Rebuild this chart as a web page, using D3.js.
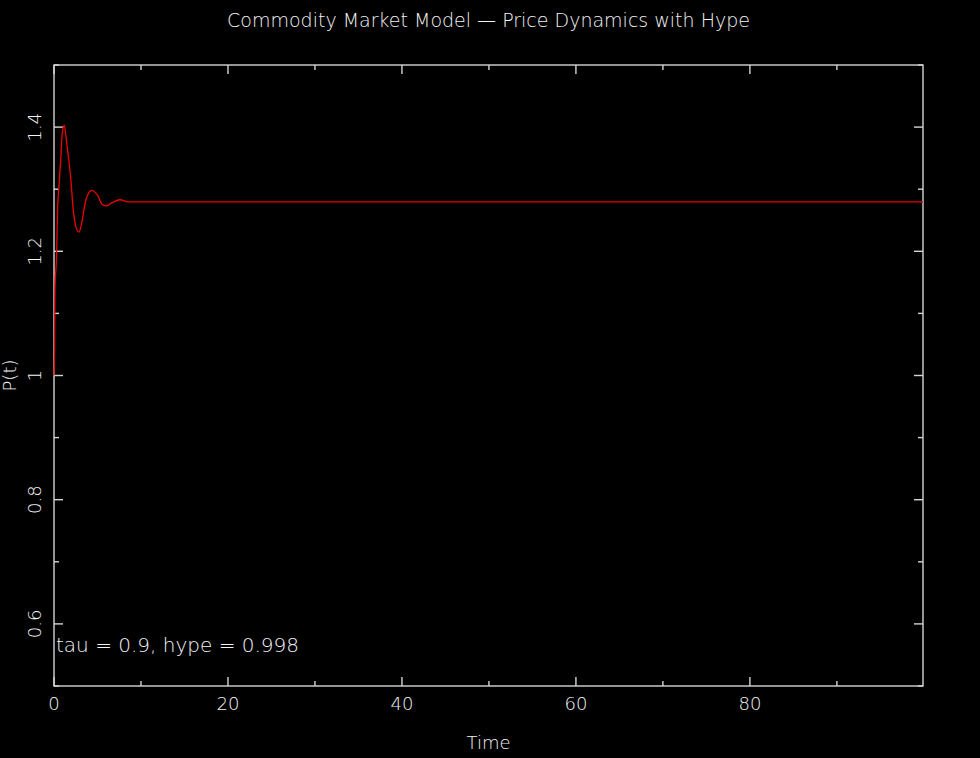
<!DOCTYPE html>
<html>
<head>
<meta charset="utf-8">
<script src="https://cdn.jsdelivr.net/npm/d3@7"></script>
<style>
  body { margin: 0; background: #000; }
  text { font-family: "DejaVu Sans", sans-serif; font-weight: 200; fill: #f4f4f4; }
</style>
</head>
<body>
<div id="chart"></div>
<script>
// data
const times  = [0, 0.05, 0.11, 0.29, 0.42, 0.6, 0.77, 0.95, 1.18, 1.46, 1.92, 2.22, 2.53, 2.88, 3.18, 3.57, 3.95, 4.33, 4.8, 5.1, 5.49, 5.98, 6.63, 7.6, 8.55, 9.9, 99.9];
const prices = [1.0, 1.03, 1.14, 1.19, 1.27, 1.31, 1.347, 1.39, 1.403, 1.374, 1.318, 1.266, 1.239, 1.231, 1.245, 1.277, 1.293, 1.298, 1.294, 1.288, 1.276, 1.273, 1.278, 1.283, 1.2795, 1.2795, 1.2795];
const xMajor = [0, 20, 40, 60, 80];
const xMinor = [10, 30, 50, 70, 90];
const yMajor = [0.6, 0.8, 1.0, 1.2, 1.4];
const yMinor = [0.5, 0.7, 0.9, 1.1, 1.3, 1.5];

const W = 980, H = 758;
const margin = {top: 65, right: 57, bottom: 72, left: 54};
const width = W - margin.left - margin.right,
      height = H - margin.top - margin.bottom;

const svg = d3.select("#chart")
  .append("svg")
    .attr("width", W)
    .attr("height", H)
    .style("background", "#000");

const g = svg.append("g")
    .attr("transform", `translate(${margin.left},${margin.top})`);

const x = d3.scaleLinear().domain([0, 99.9]).range([0, width]);
const y = d3.scaleLinear().domain([0.5, 1.5]).range([height, 0]);

const axisColor = "#d4d4d4";

// frame
g.append("rect")
  .attr("width", width).attr("height", height)
  .attr("fill", "none").attr("stroke", axisColor).attr("stroke-width", 1.4);

// x ticks, bottom and top, pointing inward
const xt = xMajor.map(v => ({v, len: 9})).concat(xMinor.map(v => ({v, len: 5})));
g.selectAll(".xb").data(xt).join("line")
  .attr("x1", d => x(d.v)).attr("x2", d => x(d.v))
  .attr("y1", height).attr("y2", d => height - d.len)
  .attr("stroke", axisColor).attr("stroke-width", 1.4);
g.selectAll(".xtop").data(xt).join("line")
  .attr("x1", d => x(d.v)).attr("x2", d => x(d.v))
  .attr("y1", 0).attr("y2", d => d.len)
  .attr("stroke", axisColor).attr("stroke-width", 1.4);

// y ticks, left and right
const yt = yMajor.map(v => ({v, len: 9})).concat(yMinor.map(v => ({v, len: 5})));
g.selectAll(".yl").data(yt).join("line")
  .attr("x1", 0).attr("x2", d => d.len)
  .attr("y1", d => y(d.v)).attr("y2", d => y(d.v))
  .attr("stroke", axisColor).attr("stroke-width", 1.4);
g.selectAll(".yr").data(yt).join("line")
  .attr("x1", width).attr("x2", d => width - d.len)
  .attr("y1", d => y(d.v)).attr("y2", d => y(d.v))
  .attr("stroke", axisColor).attr("stroke-width", 1.4);

// tick labels
g.selectAll(".xl").data(xMajor).join("text")
  .attr("x", d => x(d)).attr("y", height + 24)
  .attr("text-anchor", "middle").attr("font-size", 18)
  .text(d => d3.format("d")(d));

g.selectAll(".ylab").data(yMajor).join("text")
  .attr("transform", d => `translate(${-13},${y(d)}) rotate(-90)`)
  .attr("text-anchor", "middle").attr("font-size", 18)
  .text(d => d === 1 ? "1" : d3.format(".1f")(d));

// price line
const line = d3.line()
  .x((d, i) => x(times[i]))
  .y(d => y(d))
  .curve(d3.curveMonotoneX);

g.append("path")
  .datum(prices)
  .attr("fill", "none")
  .attr("stroke", "#f00000")
  .attr("stroke-width", 1.3)
  .attr("d", line);

// annotation
g.append("text")
  .attr("x", 2).attr("y", y(0.555))
  .attr("font-size", 20)
  .text("tau = 0.9, hype = 0.998");

// titles
svg.append("text")
  .attr("x", margin.left + width / 2).attr("y", 27)
  .attr("text-anchor", "middle").attr("font-size", 19)
  .text("Commodity Market Model \u2014 Price Dynamics with Hype");

svg.append("text")
  .attr("x", margin.left + width / 2).attr("y", 749)
  .attr("text-anchor", "middle").attr("font-size", 18)
  .text("Time");

svg.append("text")
  .attr("transform", `translate(16,${margin.top + height / 2}) rotate(-90)`)
  .attr("text-anchor", "middle").attr("font-size", 18)
  .text("P(t)");
</script>
</body>
</html>
